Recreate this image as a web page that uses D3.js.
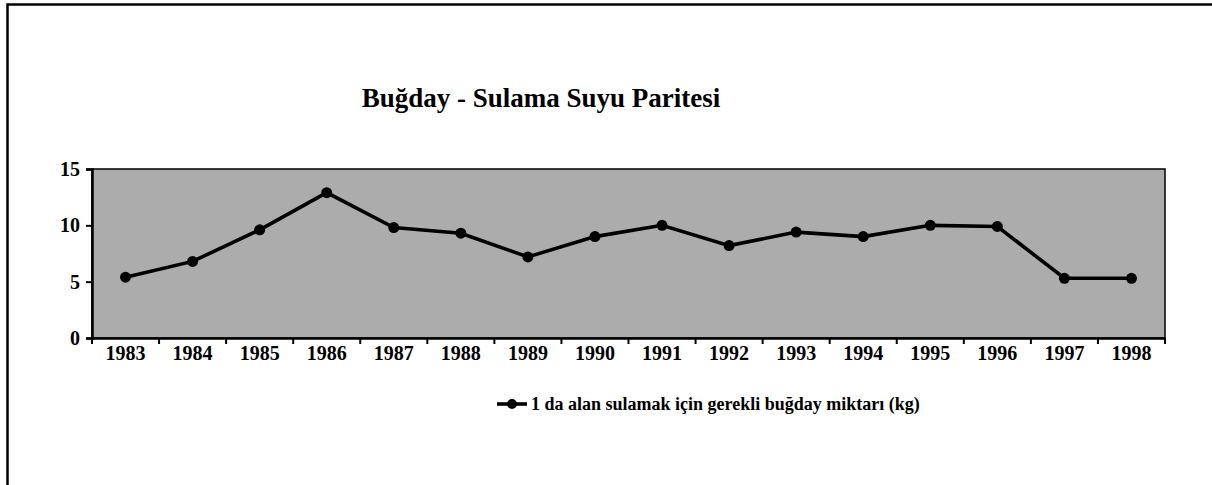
<!DOCTYPE html>
<meta charset="utf-8">
<head>
  <meta charset="utf-8">
  <title>Buğday - Sulama Suyu Paritesi</title>
  <style>
    body { margin: 0; background: #fff; }
    svg text { font-family: 'Liberation Serif', 'Times New Roman', Times, serif; font-weight: bold; }
  </style>
</head>
<body>
<script src="https://cdn.jsdelivr.net/npm/d3@7/dist/d3.min.js"></script>
<script>

// data
var years = ["1983", "1984", "1985", "1986", "1987", "1988", "1989", "1990",
             "1991", "1992", "1993", "1994", "1995", "1996", "1997", "1998"];
var values = [5.4, 6.8, 9.6, 12.9, 9.8, 9.3, 7.2, 9.0,
              10.0, 8.2, 9.4, 9.0, 10.0, 9.9, 5.3, 5.3];
var yTicks = [0, 5, 10, 15];
var seriesName = "1 da alan sulamak için gerekli buğday miktarı (kg)";

var serif = "'Liberation Serif', 'Times New Roman', Times, serif";

var W = 1212, H = 485;
var margin = {top: 169, right: 47, bottom: 147, left: 92},
    width = W - margin.left - margin.right,
    height = H - margin.top - margin.bottom;

var svg = d3.select("body").append("svg")
    .attr("width", W)
    .attr("height", H);

// outer frame (left and top edges visible)
svg.append("path")
    .attr("d", "M7.5," + H + " V4.5 H" + W)
    .attr("fill", "none")
    .attr("stroke", "#000")
    .attr("stroke-width", 2.5);

svg.append("text")
    .attr("x", 541)
    .attr("y", 107)
    .attr("text-anchor", "middle")
    .style("font-size", "27px")
    .text("Buğday - Sulama Suyu Paritesi");

var g = svg.append("g")
    .attr("transform", "translate(" + margin.left + "," + margin.top + ")");

var x = d3.scaleBand().domain(years).range([0, width]);
var y = d3.scaleLinear().domain([0, 15]).range([height, 0]);

// grey plot area
g.append("rect")
    .attr("width", width)
    .attr("height", height)
    .attr("fill", "#acacac")
    .attr("stroke", "#000")
    .attr("stroke-width", 1.5);

// x axis with ticks between categories
var xAxis = g.append("g")
    .attr("transform", "translate(0," + height + ")")
    .call(d3.axisBottom(x).tickSize(0).tickPadding(8));
xAxis.attr("font-family", serif);
xAxis.select(".domain").attr("stroke-width", 2.5);
xAxis.selectAll("text")
    .style("font-size", "20px")
    .attr("fill", "#000");
xAxis.selectAll(".edge")
    .data(d3.range(years.length + 1))
    .enter().append("line")
    .attr("x1", function(i) { return i * x.step(); })
    .attr("x2", function(i) { return i * x.step(); })
    .attr("y1", 0)
    .attr("y2", 6)
    .attr("stroke", "#000")
    .attr("stroke-width", 2);

// y axis
var yAxis = g.append("g")
    .call(d3.axisLeft(y).tickValues(yTicks).tickSize(6).tickPadding(6));
yAxis.attr("font-family", serif);
yAxis.select(".domain").attr("stroke-width", 2.5);
yAxis.selectAll(".tick line").attr("stroke-width", 2);
yAxis.selectAll("text")
    .style("font-size", "20px")
    .attr("fill", "#000");

// series line
var line = d3.line()
    .x(function(d, i) { return x(years[i]) + x.bandwidth() / 2; })
    .y(function(d) { return y(d); });

g.append("path")
    .datum(values)
    .attr("d", line)
    .attr("fill", "none")
    .attr("stroke", "#000")
    .attr("stroke-width", 3.6);

g.selectAll(".dot")
    .data(values)
    .enter().append("circle")
    .attr("cx", function(d, i) { return x(years[i]) + x.bandwidth() / 2; })
    .attr("cy", function(d) { return y(d); })
    .attr("r", 5.5)
    .attr("fill", "#000");

// legend
var lg = svg.append("g").attr("transform", "translate(497,404)");
lg.append("line")
    .attr("x1", 0).attr("x2", 30)
    .attr("stroke", "#000").attr("stroke-width", 3.6);
lg.append("circle").attr("cx", 15).attr("r", 5).attr("fill", "#000");
lg.append("text")
    .attr("x", 34)
    .attr("y", 6)
    .style("font-size", "18px")
    .text(seriesName);

</script>
</body>
